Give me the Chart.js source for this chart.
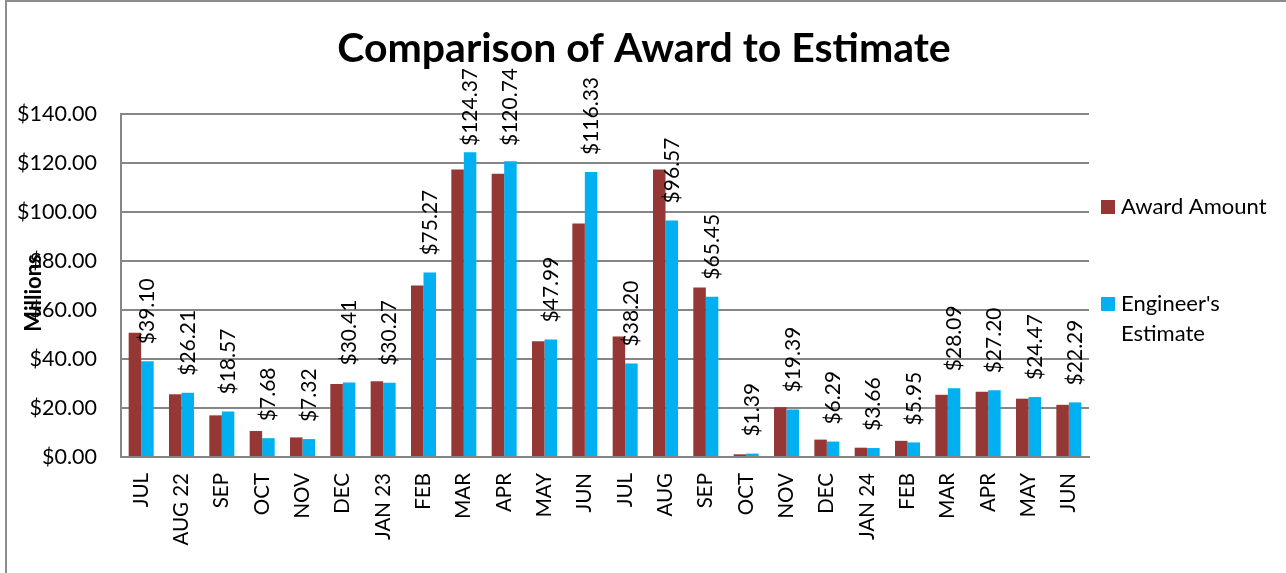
<!DOCTYPE html>
<html>
<head>
<meta charset="utf-8">
<script src="https://cdn.jsdelivr.net/npm/chart.js@4.4.1/dist/chart.umd.min.js"></script>
<style>
  html, body { margin: 0; padding: 0; background: #fff; }
  #wrap { position: relative; width: 1286px; height: 573px; }
</style>
</head>
<body>
<div id="wrap"><canvas id="chart" width="1286" height="573"></canvas></div>
<script>
const months = ["JUL", "AUG 22", "SEP", "OCT", "NOV", "DEC", "JAN 23", "FEB", "MAR", "APR", "MAY", "JUN",
  "JUL", "AUG", "SEP", "OCT", "NOV", "DEC", "JAN 24", "FEB", "MAR", "APR", "MAY", "JUN"];
const awardAmount = [50.7, 25.6, 17.0, 10.6, 8.0, 29.8, 30.9, 70.0, 117.3, 115.6, 47.2, 95.3,
  49.2, 117.3, 69.2, 1.1, 20.3, 7.1, 3.8, 6.6, 25.4, 26.6, 23.8, 21.3];
const engineersEstimate = [39.10, 26.21, 18.57, 7.68, 7.32, 30.41, 30.27, 75.27, 124.37, 120.74, 47.99, 116.33,
  38.20, 96.57, 65.45, 1.39, 19.39, 6.29, 3.66, 5.95, 28.09, 27.20, 24.47, 22.29];
const seriesNames = ["Award Amount", "Engineer's Estimate"];
const seriesColors = ["#953735", "#00B0F0"];
const chartTitle = "Comparison of Award to Estimate";
const yTitle = "Millions";

const FONT = "Lato, 'Open Sans', sans-serif";
const fmtMoney = (v) => "$" + Number(v).toFixed(2);

const decor = {
  id: "decor",
  afterDraw(chart) {
    const ctx = chart.ctx;
    ctx.save();

    // outer frame (left + top only)
    ctx.strokeStyle = "#8c8c8c";
    ctx.lineWidth = 2;
    ctx.beginPath();
    ctx.moveTo(6, 573);
    ctx.lineTo(6, 1);
    ctx.lineTo(1286, 1);
    ctx.stroke();

    // title
    ctx.fillStyle = "#000";
    ctx.font = "bold 41px " + FONT;
    ctx.textAlign = "center";
    ctx.textBaseline = "alphabetic";
    ctx.fillText(chartTitle, 644, 62);

    // y axis title
    ctx.save();
    ctx.translate(34, 293);
    ctx.rotate(-Math.PI / 2);
    ctx.font = "bold 22px " + FONT;
    ctx.textAlign = "center";
    ctx.textBaseline = "middle";
    ctx.fillText(yTitle, 0, 0);
    ctx.restore();

    // data labels on estimate series (kept below the title)
    const meta = chart.getDatasetMeta(1);
    ctx.font = "21px " + FONT;
    ctx.textAlign = "left";
    ctx.textBaseline = "middle";
    meta.data.forEach((el, i) => {
      const txt = fmtMoney(engineersEstimate[i]);
      const w = ctx.measureText(txt).width;
      let start = el.y - 17;
      if (start - w < 68) start = 68 + w;
      ctx.save();
      ctx.translate(el.x, start);
      ctx.rotate(-Math.PI / 2);
      ctx.fillText(txt, 0, 0);
      ctx.restore();
    });

    // legend
    ctx.font = "22px " + FONT;
    ctx.textAlign = "left";
    ctx.textBaseline = "middle";
    ctx.fillStyle = seriesColors[0];
    ctx.fillRect(1101, 200, 14, 14);
    ctx.fillStyle = "#000";
    ctx.fillText(seriesNames[0], 1121, 207);
    ctx.fillStyle = seriesColors[1];
    ctx.fillRect(1101, 297, 14, 14);
    ctx.fillStyle = "#000";
    const parts = seriesNames[1].split(" ");
    ctx.fillText(parts[0], 1121, 304);
    ctx.fillText(parts[1], 1121, 334);

    ctx.restore();
  },
};

new Chart(document.getElementById("chart"), {
  type: "bar",
  data: {
    labels: months,
    datasets: [
      { label: seriesNames[0], data: awardAmount, backgroundColor: seriesColors[0] },
      { label: seriesNames[1], data: engineersEstimate, backgroundColor: seriesColors[1] },
    ],
  },
  options: {
    responsive: false,
    animation: false,
    devicePixelRatio: 1,
    layout: { padding: { left: 0, top: 114, right: 197, bottom: 0 } },
    datasets: { bar: { barPercentage: 1.0, categoryPercentage: 0.62 } },
    plugins: { legend: { display: false }, tooltip: { enabled: false } },
    scales: {
      x: {
        grid: { display: false },
        border: { display: true, color: "#868686", width: 2 },
        ticks: {
          color: "#000",
          font: { family: FONT, size: 20.5 },
          maxRotation: 90,
          minRotation: 90,
          padding: 8,
          autoSkip: false,
        },
        afterFit(s) { s.height = 116; },
      },
      y: {
        min: 0,
        max: 140,
        grid: { color: "#868686", lineWidth: 2, drawTicks: false },
        border: { display: true, color: "#868686", width: 2 },
        ticks: {
          stepSize: 20,
          color: "#000",
          font: { family: FONT, size: 21.5 },
          padding: 24,
          callback: (v) => fmtMoney(v),
        },
        afterFit(s) { s.width = 121; },
      },
    },
  },
  plugins: [decor],
});
</script>
</body>
</html>
